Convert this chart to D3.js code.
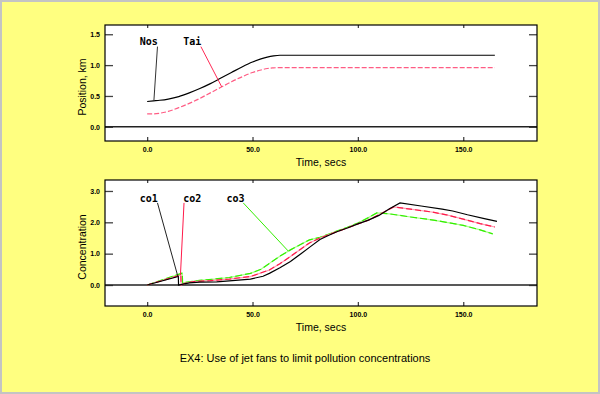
<!DOCTYPE html>
<html>
<head>
<meta charset="utf-8">
<script src="https://cdn.jsdelivr.net/npm/d3@7"></script>
<style>
  body { margin: 0; background: #ffff80; }
  svg text { font-family: "Liberation Sans", Arial, sans-serif; }
  .tick text { font-size: 7px; font-weight: bold; fill: #000; }
  .tick line { stroke: #444; stroke-width: 1.3; }
  .lbl { font-family: "DejaVu Sans Mono", monospace !important; font-weight: bold; font-size: 10px; }
</style>
</head>
<body>
<div id="chart"></div>
<script>
// ---- data ----
// top panel: position of nose and tail (km)
var posTime = [0, 3, 6, 10, 15, 20, 25, 30, 35, 40, 45, 50, 54, 57, 60, 63, 165];
var nosPos  = [0.41, 0.42, 0.43, 0.45, 0.49, 0.55, 0.62, 0.70, 0.79, 0.88, 0.97, 1.05, 1.10, 1.13, 1.15, 1.16, 1.16];
var taiPos  = [0.21, 0.21, 0.22, 0.25, 0.31, 0.38, 0.46, 0.55, 0.64, 0.73, 0.81, 0.88, 0.92, 0.945, 0.955, 0.96, 0.96];

// bottom panel: concentrations
var co1Time = [0, 14.8, 14.9, 17, 20, 25, 33, 39, 49, 55, 58, 63, 68, 73, 77, 82, 86, 90, 95, 100, 105, 110, 115, 120, 130, 140, 145, 152, 160, 166];
var co1Val  = [0, 0.27, 0, 0.03, 0.07, 0.09, 0.10, 0.13, 0.19, 0.28, 0.37, 0.55, 0.75, 1.00, 1.20, 1.45, 1.58, 1.70, 1.82, 1.95, 2.07, 2.22, 2.43, 2.62, 2.52, 2.42, 2.36, 2.24, 2.12, 2.03];
var co2Time = [0, 16, 16.1, 18, 22, 30, 39, 49, 58, 63, 68, 73, 77, 82, 86, 90, 95, 100, 105, 110, 117, 125, 135, 142, 150, 158, 165];
var co2Val  = [0, 0.32, 0, 0.05, 0.11, 0.14, 0.19, 0.27, 0.48, 0.68, 0.91, 1.15, 1.34, 1.50, 1.60, 1.70, 1.82, 1.95, 2.07, 2.24, 2.49, 2.42, 2.33, 2.24, 2.10, 1.96, 1.85];
var co3Time = [0, 16.7, 16.8, 20, 25, 32, 39, 49, 54, 58, 63, 68, 73, 77, 82, 86, 90, 95, 100, 105, 109, 115, 125, 135, 142, 150, 158, 164];
var co3Val  = [0, 0.38, 0.07, 0.10, 0.15, 0.19, 0.24, 0.37, 0.50, 0.69, 0.92, 1.12, 1.30, 1.44, 1.52, 1.62, 1.72, 1.84, 1.98, 2.15, 2.30, 2.27, 2.17, 2.08, 2.00, 1.90, 1.76, 1.63];

var xTicks = [0, 50, 100, 150];
var posTicks = [0, 0.5, 1.0, 1.5];
var concTicks = [0, 1, 2, 3];

// labels: text, label position (t, v), leader start (t, v), leader end time on series
var posLabels = [
  {name: "Nos", t: -3.5, v: 1.32, ft: 4.9, fv: 1.30, et: 3.2, series: 0},
  {name: "Tai", t: 17.1, v: 1.32, ft: 25.5, fv: 1.30, et: 35.4, series: 1}
];
var concLabels = [
  {name: "co1", t: -3.5, v: 2.66, ft: 4.9, fv: 2.62, et: 14.6, series: 0},
  {name: "co2", t: 17.1, v: 2.66, ft: 17.5, fv: 2.62, et: 15.8, series: 1},
  {name: "co3", t: 37.7, v: 2.66, ft: 45.6, fv: 2.62, et: 67, series: 2}
];

var width = 600, height = 394;
var svg = d3.select("#chart").append("svg")
    .attr("width", width).attr("height", height);

svg.append("rect").attr("x", 1).attr("y", 1)
    .attr("width", width - 2).attr("height", height - 2)
    .attr("fill", "#ffff80").attr("stroke", "#c4c4c4").attr("stroke-width", 2);

var xScale = d3.scaleLinear().domain([-20, 185]).range([105, 537]);

function zip(ts, vs) {
  return ts.map(function(t, i) { return [t, vs[i]]; });
}
function interp(ts, vs, t) {
  for (var i = 1; i < ts.length; i++) {
    if (t <= ts[i]) {
      var f = (t - ts[i-1]) / (ts[i] - ts[i-1]);
      return vs[i-1] + f * (vs[i] - vs[i-1]);
    }
  }
  return vs[vs.length - 1];
}

// draws one panel: box, ticks, zero line, axis titles
function panel(top, bottom, yDomain, yTicks, yTitle) {
  var yScale = d3.scaleLinear().domain(yDomain).range([bottom, top]);
  var g = svg.append("g");

  g.append("rect").attr("x", 105).attr("y", top)
    .attr("width", 537 - 105).attr("height", bottom - top)
    .attr("fill", "#fff");

  g.append("g").attr("transform", "translate(105,0)")
    .call(d3.axisLeft(yScale).tickValues(yTicks).tickSize(-8).tickPadding(5)
      .tickFormat(d3.format(".1f")));
  g.append("g").attr("transform", "translate(537,0)")
    .call(d3.axisRight(yScale).tickValues(yTicks).tickSize(-8).tickFormat(""));
  g.append("g").attr("transform", "translate(0," + bottom + ")")
    .call(d3.axisBottom(xScale).tickValues(xTicks).tickSize(-4).tickPadding(6)
      .tickFormat(d3.format(".1f")));
  g.append("g").attr("transform", "translate(0," + top + ")")
    .call(d3.axisTop(xScale).tickValues(xTicks).tickSize(-3).tickFormat(""));
  g.selectAll(".domain").remove();

  // zero line
  g.append("line")
    .attr("x1", xScale.range()[0]).attr("x2", xScale.range()[1])
    .attr("y1", yScale(0)).attr("y2", yScale(0))
    .attr("stroke", "#222").attr("stroke-width", 1.4);

  g.append("rect").attr("x", 105).attr("y", top)
    .attr("width", 537 - 105).attr("height", bottom - top)
    .attr("fill", "none").attr("stroke", "#000").attr("stroke-width", 1.2);

  g.append("text")
    .attr("x", 321).attr("y", bottom + 25)
    .attr("text-anchor", "middle").attr("font-size", "10.5px")
    .text("Time, secs");
  g.append("text")
    .attr("transform", "translate(86," + ((top + bottom) / 2 + 4) + ") rotate(-90)")
    .attr("text-anchor", "middle").attr("font-size", "10.5px")
    .text(yTitle);

  return {g: g, y: yScale};
}

function drawSeries(p, ts, vs, color, dash, under, curve) {
  var line = d3.line()
    .x(function(d) { return xScale(d[0]); })
    .y(function(d) { return p.y(d[1]); })
    .curve(curve);
  if (under) {
    p.g.append("path").datum(zip(ts, vs))
      .attr("d", line).attr("fill", "none")
      .attr("stroke", under).attr("stroke-width", 1.2);
  }
  p.g.append("path").datum(zip(ts, vs))
    .attr("d", line).attr("fill", "none")
    .attr("stroke", color).attr("stroke-width", 1.2)
    .attr("stroke-dasharray", dash);
}

function drawLabels(p, labels, series, colors) {
  labels.forEach(function(l) {
    var s = series[l.series];
    p.g.append("line")
      .attr("x1", xScale(l.ft)).attr("y1", p.y(l.fv))
      .attr("x2", xScale(l.et)).attr("y2", p.y(interp(s[0], s[1], l.et)))
      .attr("stroke", colors[l.series]).attr("stroke-width", 1);
    p.g.append("text").attr("class", "lbl")
      .attr("x", xScale(l.t)).attr("y", p.y(l.v))
      .text(l.name);
  });
}

// top panel
var pTop = panel(25, 141, [-0.23, 1.65], posTicks, "Position, km");
drawSeries(pTop, posTime, nosPos, "#000", null, null, d3.curveMonotoneX);
drawSeries(pTop, posTime, taiPos, "#ff5c84", "5,2", null, d3.curveMonotoneX);
drawLabels(pTop, posLabels, [[posTime, nosPos], [posTime, taiPos]], ["#333", "#ff2a55"]);

// bottom panel
var pBot = panel(180, 306, [-0.67, 3.35], concTicks, "Concentration");
drawSeries(pBot, co3Time, co3Val, "#33ee00", "7,3", "#a8ff88", d3.curveLinear);
drawSeries(pBot, co2Time, co2Val, "#ff1a4a", "6,3", "#ff9ab0", d3.curveLinear);
drawSeries(pBot, co1Time, co1Val, "#000", null, null, d3.curveLinear);
drawLabels(pBot, concLabels, [[co1Time, co1Val], [co2Time, co2Val], [co3Time, co3Val]],
  ["#222", "#ff1a4a", "#33ee00"]);

svg.append("text")
  .attr("x", 305).attr("y", 362)
  .attr("text-anchor", "middle").attr("font-size", "11px")
  .text("EX4: Use of jet fans to limit pollution concentrations");
</script>
</body>
</html>
